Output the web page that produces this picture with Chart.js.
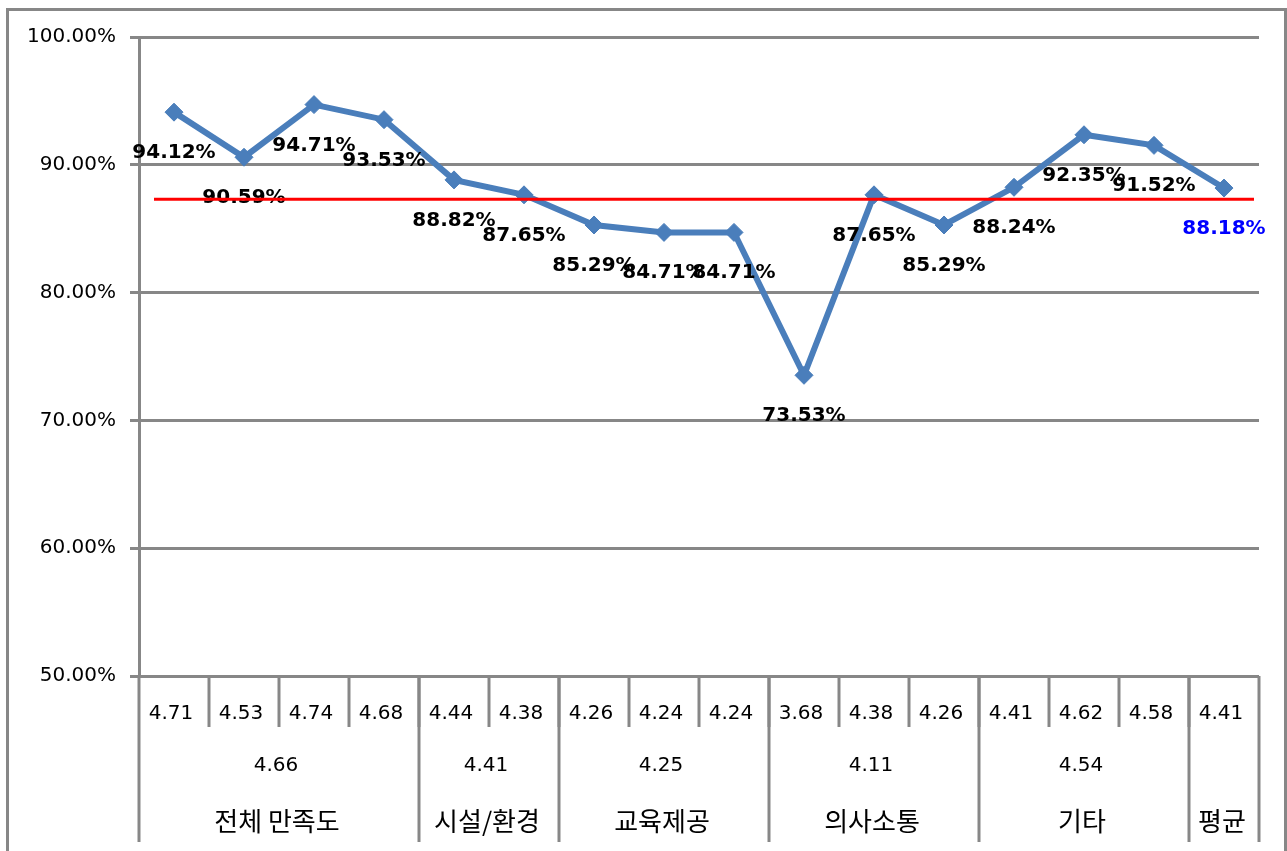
<!DOCTYPE html>
<html>
<head>
<meta charset="utf-8">
<script src="https://cdn.jsdelivr.net/npm/chart.js@4.4.0/dist/chart.umd.min.js"></script>
<style>
  body { margin: 0; background: #fff; }
  #wrap { width: 1287px; height: 851px; position: relative; }
</style>
</head>
<body>
<div id="wrap"><canvas id="chart"></canvas></div>
<script>
// sub-item scores (first row under the axis)
const subScores = ['4.71', '4.53', '4.74', '4.68', '4.44', '4.38', '4.26', '4.24', '4.24', '3.68', '4.38', '4.26', '4.41', '4.62', '4.58', '4.41'];
// satisfaction rate per item (%)
const rates = [94.12, 90.59, 94.71, 93.53, 88.82, 87.65, 85.29, 84.71, 84.71, 73.53, 87.65, 85.29, 88.24, 92.35, 91.52, 88.18];
// groups
const groupNames = ['전체 만족도', '시설/환경', '교육제공', '의사소통', '기타', '평균'];
const groupSpans = [4, 2, 3, 3, 3, 1];
const groupMeans = ['4.66', '4.41', '4.25', '4.11', '4.54', ''];
// y axis
const yMin = 50;
const yMax = 100;
const yStep = 10;
// red reference line
const referenceLine = 87.3;

const NUM_FONT = '"DejaVu Sans", "Noto Sans CJK KR", sans-serif';
const KR_FONT = '"Noto Sans CJK KR", "Noto Sans", sans-serif';
const GRAY = '#878787';
const BLUE = '#4A7EBB';

// outer frame of the chart
const framePlugin = {
    id: 'frame',
    beforeDraw(chart) {
        const ctx = chart.ctx;
        ctx.save();
        ctx.fillStyle = '#fff';
        ctx.fillRect(0, 0, chart.width, chart.height);
        ctx.strokeStyle = GRAY;
        ctx.lineWidth = 3;
        ctx.strokeRect(7.5, 9.5, 1278, 900);
        ctx.restore();
    }
};

// value labels, then the red line
const labelPlugin = {
    id: 'valueLabels',
    afterDatasetsDraw(chart) {
        const ctx = chart.ctx;
        const meta = chart.getDatasetMeta(0);
        ctx.save();
        ctx.font = 'bold 20px ' + NUM_FONT;
        ctx.textAlign = 'center';
        ctx.textBaseline = 'alphabetic';
        meta.data.forEach((pt, i) => {
            ctx.fillStyle = i === rates.length - 1 ? '#0000FF' : '#000';
            ctx.fillText(rates[i].toFixed(2) + '%', pt.x, pt.y + 46);
        });

        const area = chart.chartArea;
        const y = chart.scales.y.getPixelForValue(referenceLine);
        ctx.strokeStyle = '#FF0000';
        ctx.lineWidth = 3;
        ctx.beginPath();
        ctx.moveTo(area.left + 15, y);
        ctx.lineTo(area.right - 5, y);
        ctx.stroke();
        ctx.restore();
    }
};

// multi-level category table under the plot
const tablePlugin = {
    id: 'categoryTable',
    afterDraw(chart) {
        const ctx = chart.ctx;
        const area = chart.chartArea;
        const xs = chart.scales.x;
        const w = area.width / subScores.length;
        const b = area.bottom;
        ctx.save();
        ctx.strokeStyle = GRAY;
        ctx.lineWidth = 3;
        ctx.fillStyle = '#000';
        ctx.textAlign = 'center';

        // y axis continues down through the table
        ctx.beginPath();
        ctx.moveTo(area.left, b);
        ctx.lineTo(area.left, b + 166);
        ctx.stroke();

        ctx.font = '20px ' + NUM_FONT;
        ctx.textBaseline = 'alphabetic';
        subScores.forEach((s, i) => {
            const cx = xs.getPixelForValue(i);
            ctx.fillText(s, cx - 3, b + 43);
            if (i > 0) {
                ctx.beginPath();
                ctx.moveTo(cx - w / 2, b);
                ctx.lineTo(cx - w / 2, b + 51);
                ctx.stroke();
            }
        });

        let start = 0;
        groupNames.forEach((g, k) => {
            const end = start + groupSpans[k];
            const x0 = area.left + start * w;
            const x1 = area.left + end * w;
            const cx = (x0 + x1) / 2;
            ctx.font = '20px ' + NUM_FONT;
            ctx.textBaseline = 'alphabetic';
            if (groupMeans[k]) ctx.fillText(groupMeans[k], cx - 3, b + 95);
            ctx.font = '26px ' + KR_FONT;
            ctx.textBaseline = 'middle';
            ctx.fillText(g, cx - 2, b + 145);
            ctx.beginPath();
            ctx.moveTo(x1, b);
            ctx.lineTo(x1, b + 166);
            ctx.stroke();
            start = end;
        });
        ctx.restore();
    }
};

new Chart(document.getElementById('chart'), {
    type: 'line',
    data: {
        labels: subScores,
        datasets: [{
            data: rates,
            borderColor: BLUE,
            backgroundColor: BLUE,
            borderWidth: 6,
            pointStyle: 'rectRot',
            pointRadius: 9,
            pointBorderWidth: 1,
            pointBackgroundColor: BLUE,
            pointBorderColor: BLUE,
            tension: 0,
            fill: false
        }]
    },
    options: {
        responsive: true,
        maintainAspectRatio: false,
        animation: false,
        devicePixelRatio: 1,
        layout: { padding: { top: 37, right: 28, bottom: 175, left: 0 } },
        plugins: {
            legend: { display: false },
            tooltip: { enabled: false }
        },
        scales: {
            x: { display: false, offset: true },
            y: {
                min: yMin,
                max: yMax,
                afterFit: s => { s.width = 139; },
                ticks: {
                    stepSize: yStep,
                    padding: 14,
                    color: '#000',
                    font: { family: NUM_FONT, size: 20 },
                    callback: v => v.toFixed(2) + '%'
                },
                grid: { color: GRAY, lineWidth: 3, tickLength: 9 },
                border: { color: GRAY, width: 3 }
            }
        }
    },
    plugins: [framePlugin, labelPlugin, tablePlugin]
});
</script>
</body>
</html>
